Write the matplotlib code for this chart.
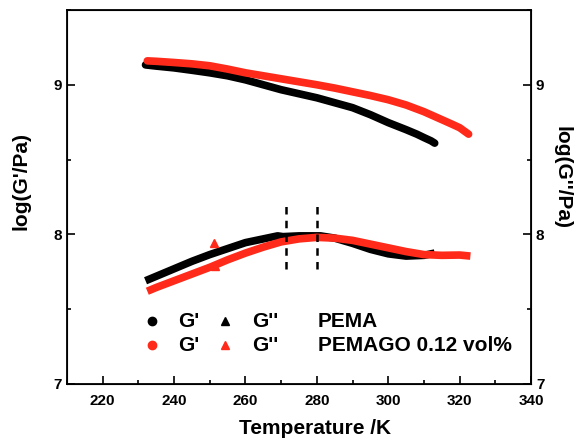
import matplotlib.pyplot as plt
from matplotlib.ticker import MultipleLocator

plt.rcParams['font.family'] = ['Liberation Sans', 'DejaVu Sans']
plt.rcParams['font.weight'] = 'bold'

# PEMA storage modulus G'
t_pema_g1 = [232, 235, 240, 245, 250, 255, 260, 265, 270, 275, 280, 285, 290, 295,
             300, 305, 308, 310, 312, 313]
pema_g1 = [9.133, 9.125, 9.113, 9.097, 9.08, 9.06, 9.033, 9.00, 8.967, 8.94, 8.913,
           8.88, 8.847, 8.80, 8.747, 8.70, 8.67, 8.647, 8.625, 8.61]

# PEMAGO 0.12 vol% storage modulus G'
t_go_g1 = [232.5, 235, 240, 245, 250, 255, 260, 265, 270, 275, 280, 285, 290, 295,
           300, 305, 310, 315, 318, 320, 322.5]
go_g1 = [9.16, 9.157, 9.149, 9.14, 9.127, 9.105, 9.08, 9.06, 9.04, 9.02, 9.0, 8.978,
         8.953, 8.928, 8.90, 8.865, 8.82, 8.767, 8.735, 8.713, 8.67]

# PEMA loss modulus G''
t_pema_g2 = [232, 235, 240, 245, 250, 255, 260, 265, 269, 270.5, 275, 281, 285, 290,
             295, 300, 305, 310, 313]
pema_g2 = [7.69, 7.72, 7.77, 7.82, 7.865, 7.905, 7.945, 7.97, 7.99, 7.985, 7.99, 7.99,
           7.975, 7.94, 7.90, 7.87, 7.855, 7.86, 7.875]

# PEMAGO loss modulus G''
t_go_g2 = [232.5, 235, 240, 245, 250, 255, 260, 265, 270, 275, 280, 285, 290, 295,
           300, 305, 310, 315, 320, 323]
go_g2 = [7.62, 7.645, 7.69, 7.735, 7.78, 7.83, 7.875, 7.915, 7.95, 7.97, 7.98, 7.975,
         7.96, 7.935, 7.91, 7.885, 7.865, 7.86, 7.862, 7.855]

# isolated G'' points
t_extra = [251.2, 251.4]
extra = [7.94, 7.787]

# transition markers
t_dash = [271.4, 280.0]
dash_lo = [7.77, 7.77]
dash_hi = [8.21, 8.19]

red = '#ff2a1a'

fig = plt.figure(figsize=(5.76, 4.40), dpi=100)
ax = fig.add_axes([0.1163, 0.1273, 0.8057, 0.8500])

lw = 5.5
ax.plot(t_pema_g1, pema_g1, color='black', lw=lw, solid_capstyle='round')
ax.plot(t_go_g1, go_g1, color=red, lw=lw, solid_capstyle='round')
ax.plot(t_pema_g2, pema_g2, color='black', lw=lw, solid_capstyle='butt')
ax.plot(t_go_g2, go_g2, color=red, lw=lw, solid_capstyle='butt')
ax.plot(t_extra, extra, '^', color=red, ms=6, ls='none')
ax.vlines(t_dash, dash_lo, dash_hi, colors='black', linestyles=(0, (3, 2.5)), lw=1.8)

ax.set_xlim(210, 340)
ax.set_ylim(7, 9.5)
ax.xaxis.set_major_locator(MultipleLocator(20))
ax.xaxis.set_minor_locator(MultipleLocator(10))
ax.yaxis.set_major_locator(MultipleLocator(1))
ax.yaxis.set_minor_locator(MultipleLocator(0.5))
ax.tick_params(which='both', direction='in', labelsize=11, width=1.2)
ax.tick_params(which='major', length=6)
ax.tick_params(which='minor', length=3)
ax.tick_params(axis='x', which='major', pad=7)
for s in ax.spines.values():
    s.set_linewidth(1.3)

ax.set_xlabel('Temperature /K', fontsize=15, fontweight='bold', va='center')
ax.xaxis.set_label_coords(0.534, -0.118)
ax.set_ylabel("log(G'/Pa)", fontsize=15, fontweight='bold', va='center')
ax.yaxis.set_label_coords(-0.099, 0.543)

ax2 = ax.twinx()
ax2.set_ylim(7, 9.5)
ax2.yaxis.set_major_locator(MultipleLocator(1))
ax2.yaxis.set_minor_locator(MultipleLocator(0.5))
ax2.tick_params(which='both', direction='in', labelsize=11, width=1.2)
ax2.tick_params(which='major', length=6)
ax2.tick_params(which='minor', length=3)
ax2.set_ylabel("log(G''/Pa)", fontsize=15, fontweight='bold', rotation=270, va='center')
ax2.yaxis.set_label_coords(1.067, 0.553)

# legend drawn by hand
tr = ax.transAxes
ax.plot([0.183], [0.168], 'o', color='black', ms=6, transform=tr)
ax.plot([0.183], [0.104], 'o', color=red, ms=6, transform=tr)
ax.plot([0.340], [0.168], '^', color='black', ms=6, transform=tr)
ax.plot([0.340], [0.104], '^', color=red, ms=6, transform=tr)
for y, name in [(0.168, 'PEMA'), (0.104, 'PEMAGO 0.12 vol%')]:
    ax.text(0.239, y, "G'", transform=tr, fontsize=15, fontweight='bold', va='center')
    ax.text(0.398, y, "G''", transform=tr, fontsize=15, fontweight='bold', va='center')
    ax.text(0.540, y, name, transform=tr, fontsize=15, fontweight='bold', va='center')

fig.savefig('out.png', dpi=100)
